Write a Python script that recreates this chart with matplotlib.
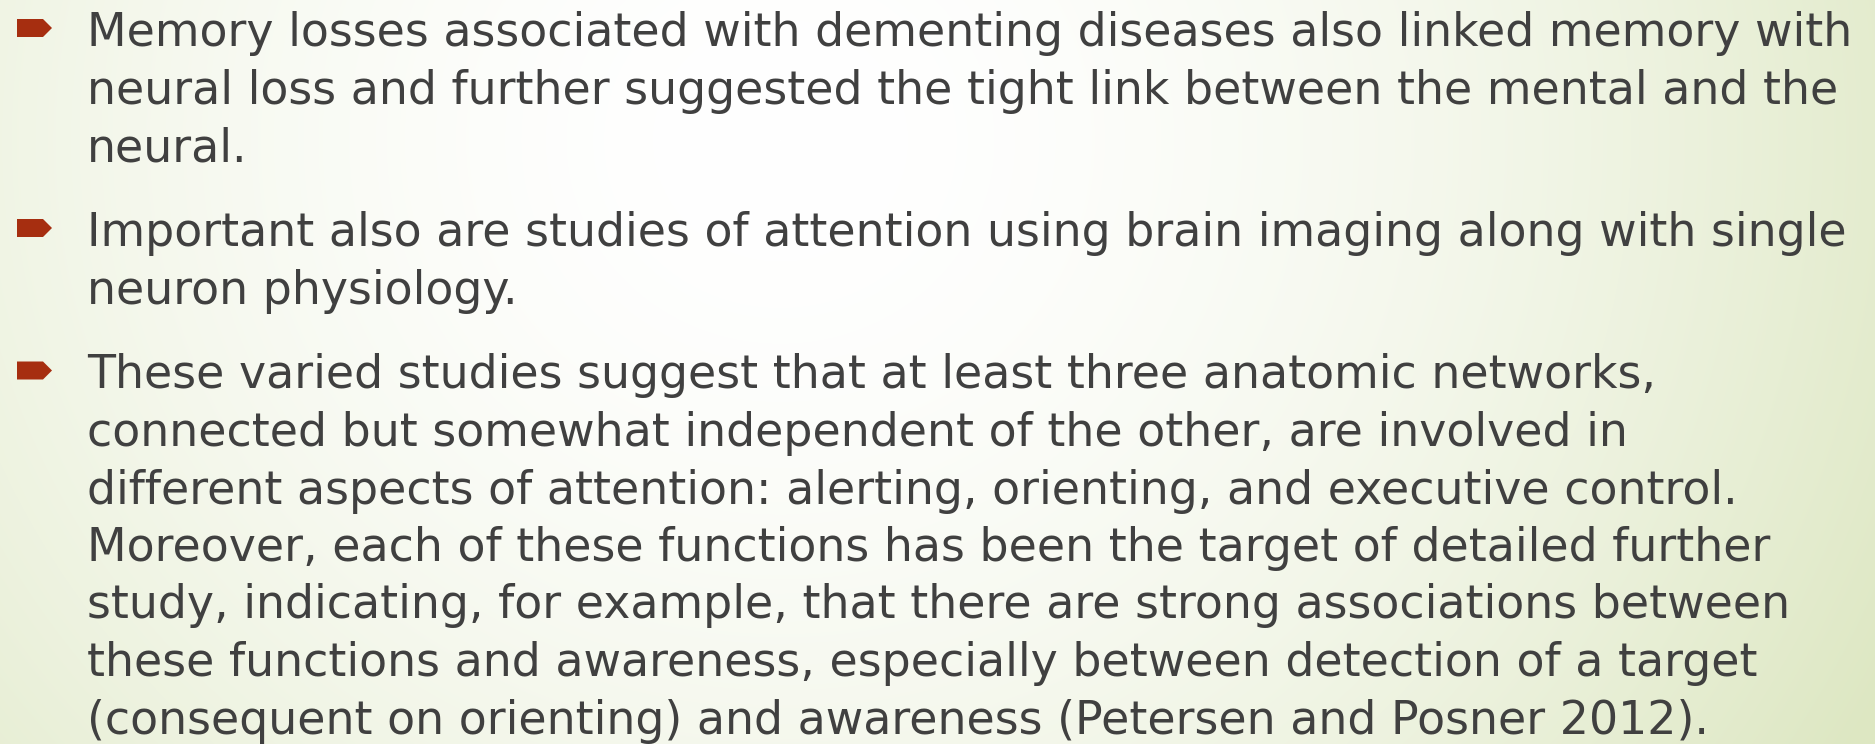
import numpy as np
import matplotlib
matplotlib.use("Agg")
import matplotlib.pyplot as plt
from matplotlib.patches import Polygon

# slide text, one list per bullet, one string per rendered line
para1 = ["Memory losses associated with dementing diseases also linked memory with",
         "neural loss and further suggested the tight link between the mental and the",
         "neural."]
para2 = ["Important also are studies of attention using brain imaging along with single",
         "neuron physiology."]
para3 = ["These varied studies suggest that at least three anatomic networks,",
         "connected but somewhat independent of the other, are involved in",
         "different aspects of attention: alerting, orienting, and executive control.",
         "Moreover, each of these functions has been the target of detailed further",
         "study, indicating, for example, that there are strong associations between",
         "these functions and awareness, especially between detection of a target",
         "(consequent on orienting) and awareness (Petersen and Posner 2012)."]
paragraphs = [para1, para2, para3]

W, H = 1875, 744
text_col = "#404040"
bullet_col = "#A62E10"

fig = plt.figure(figsize=(W / 100, H / 100), dpi=100)
ax = fig.add_axes([0, 0, 1, 1])
ax.set_xlim(0, W)
ax.set_ylim(H, 0)
ax.axis("off")

# radial background: white centre fading to pale green
yy, xx = np.mgrid[0:H, 0:W]
d = np.sqrt((xx - 780) ** 2 + ((yy - 140) / 0.95) ** 2) / 1250
t = np.clip(d, 0, 1) ** 1.8
white = np.array([255, 255, 255]) / 255
green = np.array([221, 231, 194]) / 255
bg = white[None, None, :] + (green - white)[None, None, :] * t[:, :, None]
ax.imshow(bg, extent=(0, W, H, 0), aspect="auto", zorder=0)

x_text = 87
y = 46
pitch = 57.5
para_gap = 85
for p in paragraphs:
    # arrow bullet
    ax.add_patch(Polygon([(17, y - 27), (43, y - 27), (52, y - 18), (43, y - 9), (17, y - 9)],
                         closed=True, color=bullet_col, lw=0, zorder=2))
    for i, line in enumerate(p):
        ax.text(x_text, y, line, fontsize=33, color=text_col, va="baseline",
                ha="left", family="DejaVu Sans", zorder=3)
        if i < len(p) - 1:
            y += pitch
    y += para_gap

fig.savefig("out.png", dpi=100)
